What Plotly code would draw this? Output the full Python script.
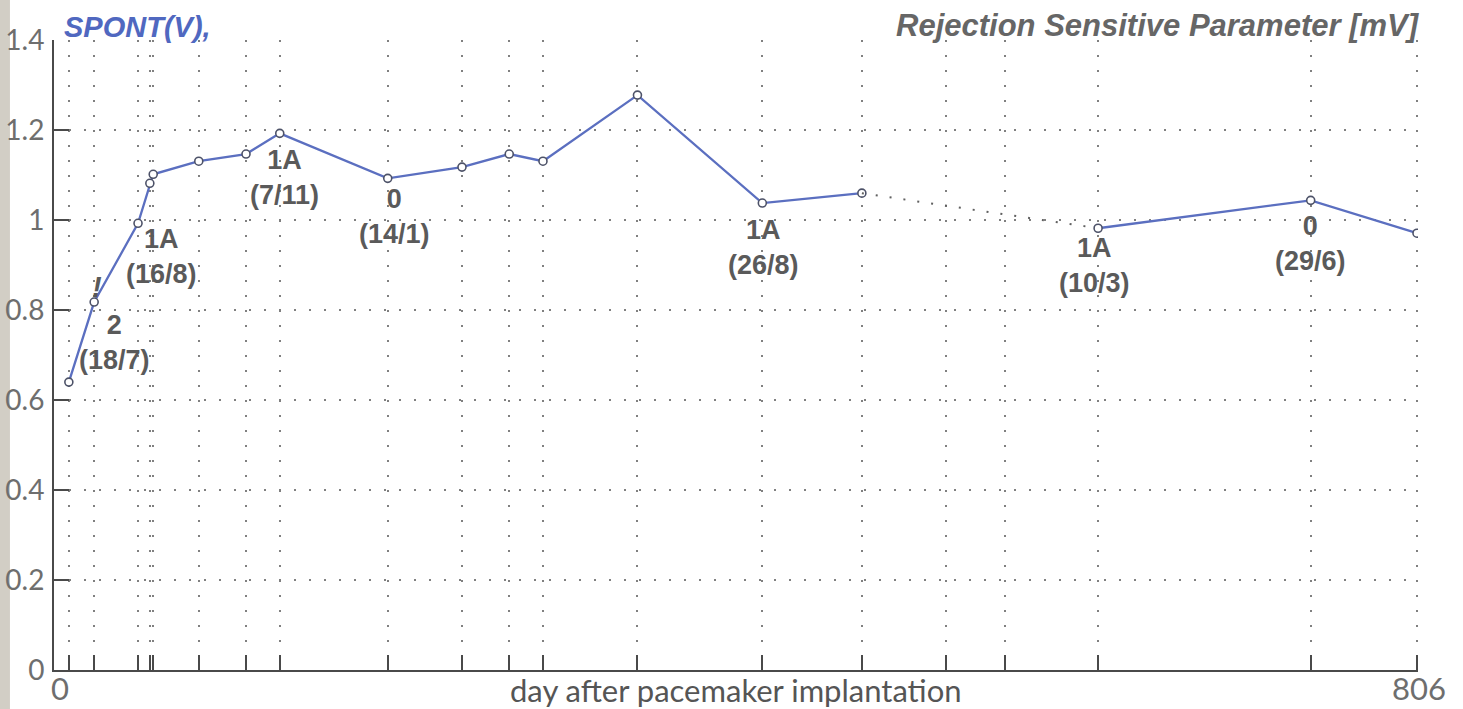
import plotly.graph_objects as go

# Rejection sensitive parameter (SPONT) vs. day after pacemaker implantation
days = [7, 22, 48, 55, 57, 84, 112, 132, 196, 240, 268, 288, 344, 418, 477, 617, 743, 806]
spont = [0.64, 0.818, 0.993, 1.082, 1.102, 1.131, 1.147, 1.193, 1.093, 1.118,
         1.147, 1.131, 1.278, 1.038, 1.06, 0.982, 1.044, 0.971]
extra_grid_days = [527, 562]          # follow-up days without a measurement
gap_after = 14                        # index of the last point before the gap

# biopsy grade / date labels, attached to point indices
label_index = [1, 1, 2, 7, 8, 13, 15, 16]
label_text = ["!", "2<br>(18/7)", "1A<br>(16/8)", "1A<br>(7/11)", "0<br>(14/1)",
              "1A<br>(26/8)", "1A<br>(10/3)", "0<br>(29/6)"]
label_shift = [(3, 15), (20, -40), (23, -33), (5, -44), (7, -38),
               (1, -44), (-4, -37), (0, -43)]

y_ticks = [0, 0.2, 0.4, 0.6, 0.8, 1.0, 1.2, 1.4]
y_tick_text = ["0", "0.2", "0.4", "0.6", "0.8", "1", "1.2", "1.4"]

LINE_BLUE = "#5b6fc0"
TEXT_GRAY = "#5a5a5a"
AXIS_GRAY = "#4a4a4a"
TICK_FONT = dict(family="Lato, sans-serif", size=28, color="#6e6e6e")

fig = go.Figure()

marker = dict(symbol="circle", size=8, color="white",
              line=dict(color="#4d5268", width=1.6))

fig.add_trace(go.Scatter(x=days[:gap_after + 1], y=spont[:gap_after + 1],
                         mode="lines+markers", line=dict(color=LINE_BLUE, width=2.3),
                         marker=marker, showlegend=False))
fig.add_trace(go.Scatter(x=days[gap_after:gap_after + 2], y=spont[gap_after:gap_after + 2],
                         mode="lines", line=dict(color="#606060", width=2, dash="2px,12px"),
                         showlegend=False))
fig.add_trace(go.Scatter(x=days[gap_after + 1:], y=spont[gap_after + 1:],
                         mode="lines+markers", line=dict(color=LINE_BLUE, width=2.3),
                         marker=marker, showlegend=False))

for i, txt, (dx, dy) in zip(label_index, label_text, label_shift):
    fig.add_annotation(x=days[i], y=spont[i], text=txt, showarrow=False,
                       xshift=dx, yshift=dy, align="center",
                       font=dict(family="Liberation Sans, Arial, sans-serif",
                                 size=29 if txt == "!" else 27, color=TEXT_GRAY,
                                 weight="bold",
                                 style="italic" if txt == "!" else "normal"))

# x tick labels only at the ends of the axis
end_font = dict(TICK_FONT, size=31)
for xv, txt, xs in [(0, "0", 3), (806, "806", 2)]:
    fig.add_annotation(x=xv, y=0, yref="y", text=txt, showarrow=False,
                       xshift=xs, yshift=-18, yanchor="middle", font=end_font)

fig.add_annotation(x=0.5, y=-0.032, xref="paper", yref="paper", yanchor="middle",
                   text="day after pacemaker implantation", showarrow=False,
                   font=dict(family="Lato, Roboto, sans-serif", size=31, color="#555555"))

fig.add_annotation(x=0.006, y=1.0, xref="paper", yref="paper", xanchor="left",
                   yanchor="bottom", yshift=-5, text="<b><i>SPONT(V),</i></b>",
                   showarrow=False,
                   font=dict(family="Liberation Sans, Arial, sans-serif", size=29,
                             color="#5068c0"))
fig.add_annotation(x=1.003, y=1.0, xref="paper", yref="paper", xanchor="right",
                   yanchor="bottom", yshift=-5,
                   text="<b><i>Rejection Sensitive Parameter [mV]</i></b>",
                   showarrow=False,
                   font=dict(family="Liberation Sans, Arial, sans-serif", size=31,
                             color="#666666"))

# scanner edge strip on the far left
fig.add_shape(type="rect", xref="paper", yref="paper", x0=-0.045, x1=-0.0323,
              y0=-0.07, y1=1.07, fillcolor="#d2cec5", line_width=0, layer="below")

fig.update_xaxes(range=[-1.8, 806.6], tickvals=days + extra_grid_days,
                 showticklabels=False, ticks="inside", ticklen=15, tickwidth=1.5,
                 tickcolor=AXIS_GRAY, showline=True, linecolor=AXIS_GRAY, linewidth=2,
                 showgrid=True, gridcolor="#808080", gridwidth=1.5,
                 griddash="2px,13px", zeroline=False, automargin=False)
fig.update_yaxes(range=[0, 1.4005], tickvals=y_ticks, ticktext=y_tick_text,
                 ticks="inside", ticklen=15, tickwidth=1.5, tickcolor=AXIS_GRAY,
                 showline=True, linecolor=AXIS_GRAY, linewidth=2,
                 showgrid=True, gridcolor="#808080", gridwidth=1.5,
                 griddash="2px,13px", zeroline=False, tickfont=TICK_FONT,
                 ticklabelstandoff=2, automargin=False)

fig.update_layout(width=1463, height=709, margin=dict(l=54, r=45, t=40, b=39),
                  paper_bgcolor="white", plot_bgcolor="white")

fig.write_html("out.html")
